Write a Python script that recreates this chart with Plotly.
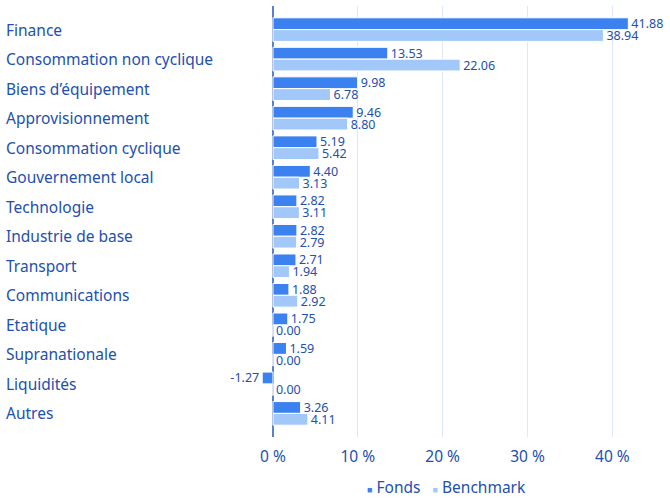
import plotly.graph_objects as go

categories = ["Finance", "Consommation non cyclique", "Biens d’équipement", "Approvisionnement",
              "Consommation cyclique", "Gouvernement local", "Technologie", "Industrie de base",
              "Transport", "Communications", "Etatique", "Supranationale", "Liquidités", "Autres"]
fonds = [41.88, 13.53, 9.98, 9.46, 5.19, 4.40, 2.82, 2.82, 2.71, 1.88, 1.75, 1.59, -1.27, 3.26]
benchmark = [38.94, 22.06, 6.78, 8.80, 5.42, 3.13, 3.11, 2.79, 1.94, 2.92, 0.00, 0.00, 0.00, 4.11]
x_ticks = [0, 10, 20, 30, 40]
x_tick_labels = ["0 %", "10 %", "20 %", "30 %", "40 %"]
series_names = ["Fonds", "Benchmark"]

FONT = "Segoe UI, Noto Sans, Open Sans, sans-serif"
TXT = "#2150b0"
DARK = "#3b82f0"
LIGHT = "#a2c8fa"

fig = go.Figure()
for vals, name, col in [(fonds, series_names[0], DARK), (benchmark, series_names[1], LIGHT)]:
    fig.add_trace(go.Bar(y=categories, x=vals, orientation="h", name=name,
                         marker=dict(color=col, line=dict(color="white", width=1)),
                         text=[f"{v:.2f}" for v in vals], textposition="outside",
                         constraintext="none",
                         textfont=dict(color=TXT, size=12.5, family=FONT), cliponaxis=False,
                         showlegend=False))

for c in categories:
    fig.add_annotation(x=0, xref="paper", xshift=-252, y=c, yref="y", text=c,
                       showarrow=False, xanchor="left",
                       font=dict(color=TXT, size=15.5, family=FONT))

legend_text = (f"<span style='color:{DARK};font-size:9px'>■</span> {series_names[0]}&nbsp;&nbsp; "
               f"<span style='color:{LIGHT};font-size:9px'>■</span> {series_names[1]}")
fig.add_annotation(x=(446 - 256) / 409, xref="paper", y=-0.116, yref="paper",
                   text=legend_text, showarrow=False, xanchor="center", yanchor="middle",
                   font=dict(color=TXT, size=15.5, family=FONT))

fig.update_layout(
    width=670, height=499,
    margin=dict(l=256, r=5, t=6, b=62),
    plot_bgcolor="white", paper_bgcolor="white",
    barmode="group", bargap=0.2, bargroupgap=0,
    font=dict(family=FONT, color=TXT),
    showlegend=False,
    xaxis=dict(range=[-2, 46.2], tickvals=x_ticks, ticktext=x_tick_labels,
               showgrid=True, gridcolor="#dde9fb", gridwidth=1,
               zeroline=True, zerolinecolor="#5a80d0", zerolinewidth=2,
               ticks="", ticklabelstandoff=8,
               tickfont=dict(size=15.5, color=TXT, family=FONT), showline=False),
    yaxis=dict(categoryorder="array", categoryarray=categories,
               range=[13.8, -0.8], showticklabels=False, showgrid=False,
               zeroline=False, showline=False),
)

fig.write_html("out.html", config={"displayModeBar": False},
               post_script="document.body.style.margin='0';document.body.style.padding='0';")
